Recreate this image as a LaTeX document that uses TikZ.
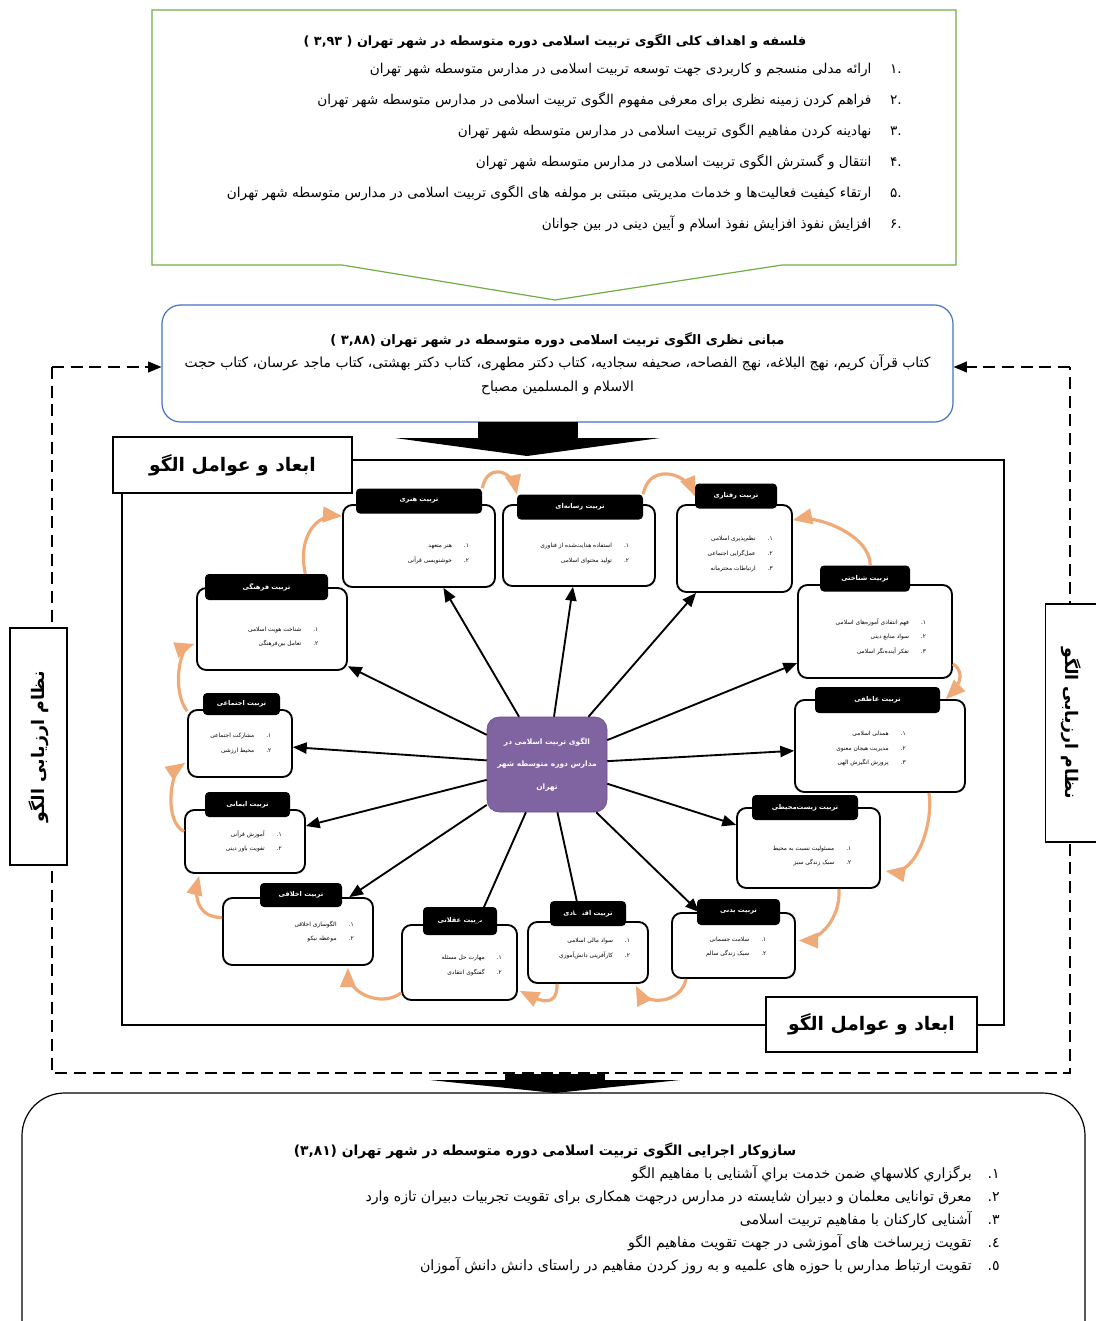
\documentclass[tikz,border=0pt]{standalone}
\usepackage{fontspec}
\usepackage{tikz}
\usetikzlibrary{arrows}
\usetikzlibrary{positioning}
\newfontfamily\persianfont[Script=Arabic]{DejaVu Sans}
\TeXXeTstate=1
\newcommand{\rl}[1]{\beginR #1\endR}
\definecolor{greenline}{RGB}{112,173,71}
\definecolor{blueline}{RGB}{68,114,196}
\definecolor{purplebox}{RGB}{128,100,162}
\definecolor{orangearc}{RGB}{240,170,120}
\tikzset{%
  wh/.style 2 args={minimum width=#1*0.75pt, minimum height=#2*0.75pt},
  myedge/.style={->, line width=1.4pt, >=triangle 45},
  myloop/.style={->, line width=2.4pt, draw=orangearc, >=triangle 45},
  dashframe/.style={line width=1.3pt, dash pattern=on 9pt off 5pt},
  dimbody/.style={rectangle, rounded corners=7pt, draw=black, line width=1.4pt, fill=white},
  dimhead/.style={rectangle, rounded corners=3pt, fill=black, text=white, minimum height=18pt, inner sep=1pt, font=\persianfont\bfseries\fontsize{5}{6}\selectfont},
  dimitems/.style={align=right, inner sep=0pt, font=\persianfont\fontsize{4.4}{11}\selectfont},
  labelbox/.style={rectangle, draw=black, line width=0.9pt, fill=white, font=\persianfont\bfseries\fontsize{14}{16}\selectfont},
  evalbox/.style={rectangle, draw=black, line width=0.9pt, fill=white, font=\persianfont\bfseries\fontsize{13}{15}\selectfont}
}
\begin{document}
\begin{tikzpicture}[x=0.75pt, y=-0.75pt]
\useasboundingbox (0,0) rectangle (1096,1321);

% goals of the model
\draw[greenline, line width=0.9pt] (152,10) -- (956,10) -- (956,265) -- (782,265) -- (555,300) -- (342,265) -- (152,265) -- cycle;
\node[font=\persianfont\bfseries\fontsize{9.6}{11}\selectfont] (goalttl) at (555,41) {\rl{فلسفه و اهداف کلی الگوی تربیت اسلامی دوره متوسطه در شهر تهران ( ۳,۹۳ )}};
\node[anchor=north east, align=right, inner sep=0pt, font=\persianfont\fontsize{10.2}{23.2}\selectfont] (goals) at (902,63) {%
  \rl{.۱\hspace{14pt}ارائه مدلی منسجم و کاربردی جهت توسعه تربیت اسلامی در مدارس متوسطه شهر تهران}\\
  \rl{.۲\hspace{14pt}فراهم کردن زمینه نظری برای معرفی مفهوم الگوی تربیت اسلامی در مدارس متوسطه شهر تهران}\\
  \rl{.۳\hspace{14pt}نهادینه کردن مفاهیم الگوی تربیت اسلامی در مدارس متوسطه شهر تهران}\\
  \rl{.۴\hspace{14pt}انتقال و گسترش الگوی تربیت اسلامی در مدارس متوسطه شهر تهران}\\
  \rl{.۵\hspace{14pt}ارتقاء کیفیت فعالیت‌ها و خدمات مدیریتی مبتنی بر مولفه های الگوی تربیت اسلامی در مدارس متوسطه شهر تهران}\\
  \rl{.۶\hspace{14pt}افزایش نفوذ افزایش نفوذ اسلام و آیین دینی در بین جوانان}};

% theoretical foundations
\node[rectangle, draw=blueline, line width=0.9pt, rounded corners=14pt, wh={791}{117}, align=center, font=\persianfont\fontsize{10.4}{17.8}\selectfont] (mabani) at (557.5,363.5) {%
  \rl{\bfseries\fontsize{9.8}{17.8}\selectfont مبانی نظری الگوی تربیت اسلامی دوره متوسطه در شهر تهران (۳,۸۸ )}\\
  \rl{کتاب قرآن کریم، نهج البلاغه، نهج الفصاحه، صحیفه سجادیه، کتاب دکتر مطهری، کتاب دکتر بهشتی، کتاب ماجد عرسان، کتاب حجت}\\
  \rl{الاسلام و المسلمین مصباح}};

% evaluation loop
\coordinate (dtl) at (52,367);
\coordinate (dbl) at (52,1073);
\coordinate (dbr) at (1070,1073);
\coordinate (dtr) at (1070,367);
\draw[dashframe] (dtl) -- (dbl) -- (dbr) -- (dtr);
\draw[dashframe, ->, >=triangle 45] (dtl) -- (dtl -| mabani.west);
\draw[dashframe, ->, >=triangle 45] (dtr) -- (dtr -| mabani.east);
\node[evalbox, wh={237}{57}, rotate=90] (evalL) at (38.5,746.5) {\rl{نظام ارزیابی الگو}};
\node[evalbox, wh={238}{51}, rotate=-90] (evalR) at (1071,723) {\rl{نظام ارزیابی الگو}};

% block arrows
\fill (478,422) rectangle (578,439);
\fill (395,438) -- (660,438) -- (527,456) -- cycle;
\fill (505,1074) rectangle (605,1081);
\fill (430,1080) -- (680,1080) -- (555,1093) -- cycle;

% dimensions frame
\draw[line width=0.9pt] (122,460) rectangle (1004,1025);
\node[labelbox, wh={239}{56}] (dimL) at (232.5,465) {\rl{ابعاد و عوامل الگو}};
\node[labelbox, wh={211}{55}] (dimR) at (871.5,1024.5) {\rl{ابعاد و عوامل الگو}};

% center of the model
\node[rectangle, rounded corners=9pt, fill=purplebox, draw=purplebox!80!black, wh={120}{95}, align=center, text=white, font=\persianfont\bfseries\fontsize{5.6}{17}\selectfont] (olgu) at (547,764.5) {%
  \rl{الگوی تربیت اسلامی در}\\ \rl{مدارس دوره متوسطه شهر}\\ \rl{تهران}};

% dimension boxes
\node[dimbody, wh={152}{82}] (honari) at (419,546) {};
\node[dimhead, wh={126}{25}] (honari-h) at (419,501) {\rl{تربیت هنری}};
\node[dimitems, left=20pt, yshift=-6pt] (honari-t) at (honari.east) {\rl{۱.\hspace{9pt}هنر متعهد}\\ \rl{۲.\hspace{9pt}خوشنویسی قرآنی}};

\node[dimbody, wh={152}{81}] (resanei) at (579,545.5) {};
\node[dimhead, wh={126}{25}] (resanei-h) at (580,507) {\rl{تربیت رسانه‌ای}};
\node[dimitems, left=20pt, yshift=-6pt] (resanei-t) at (resanei.east) {\rl{۱.\hspace{9pt}استفاده هدایت‌شده از فناوری}\\ \rl{۲.\hspace{9pt}تولید محتوای اسلامی}};

\node[dimbody, wh={115}{87}] (raftari) at (734.5,548.5) {};
\node[dimhead, wh={82}{25}] (raftari-h) at (736,496) {\rl{تربیت رفتاری}};
\node[dimitems, left=15pt, yshift=-4pt] (raftari-t) at (raftari.east) {\rl{۱.\hspace{9pt}نظم‌پذیری اسلامی}\\ \rl{۲.\hspace{9pt}عمل‌گرایی اجتماعی}\\ \rl{۳.\hspace{9pt}ارتباطات محترمانه}};

\node[dimbody, wh={154}{93}] (shenakhti) at (875,631.5) {};
\node[dimhead, wh={90}{26}] (shenakhti-h) at (865,578.5) {\rl{تربیت شناختی}};
\node[dimitems, left=20pt, yshift=-4pt] (shenakhti-t) at (shenakhti.east) {\rl{۱.\hspace{9pt}فهم انتقادی آموزه‌های اسلامی}\\ \rl{۲.\hspace{9pt}سواد منابع دینی}\\ \rl{۳.\hspace{9pt}تفکر آینده‌نگر اسلامی}};

\node[dimbody, wh={170}{92}] (atefi) at (880,746) {};
\node[dimhead, wh={125}{26}] (atefi-h) at (877.5,700) {\rl{تربیت عاطفی}};
\node[dimitems, left=45pt, yshift=-2pt] (atefi-t) at (atefi.east) {\rl{۱.\hspace{9pt}همدلی اسلامی}\\ \rl{۲.\hspace{9pt}مدیریت هیجان معنوی}\\ \rl{۳.\hspace{9pt}پرورش انگیزش الهی}};

\node[dimbody, wh={143}{80}] (zist) at (808.5,848) {};
\node[dimhead, wh={106}{25}] (zist-h) at (805,807.5) {\rl{تربیت زیست‌محیطی}};
\node[dimitems, left=22pt, yshift=-6pt] (zist-t) at (zist.east) {\rl{۱.\hspace{9pt}مسئولیت نسبت به محیط}\\ \rl{۲.\hspace{9pt}سبک زندگی سبز}};

\node[dimbody, wh={123}{65}] (badani) at (733.5,945.5) {};
\node[dimhead, wh={83}{26}] (badani-h) at (738.5,912) {\rl{تربیت بدنی}};
\node[dimitems, left=22pt, yshift=-1pt] (badani-t) at (badani.east) {\rl{۱.\hspace{9pt}سلامت جسمانی}\\ \rl{۲.\hspace{9pt}سبک زندگی سالم}};

\node[dimbody, wh={120}{61}] (eghtesadi) at (588,952.5) {};
\node[dimhead, wh={76}{25}] (eghtesadi-h) at (588,913.5) {\rl{تربیت اقتصادی}};
\node[dimitems, left=14pt, yshift=3pt] (eghtesadi-t) at (eghtesadi.east) {\rl{۱.\hspace{9pt}سواد مالی اسلامی}\\ \rl{۲.\hspace{9pt}کارآفرینی دانش‌آموزی}};

\node[dimbody, wh={115}{75}] (aghlani) at (459.5,962.5) {};
\node[dimhead, wh={74}{28}] (aghlani-h) at (460,921) {\rl{تربیت عقلانی}};
\node[dimitems, left=12pt, yshift=-2pt] (aghlani-t) at (aghlani.east) {\rl{۱.\hspace{9pt}مهارت حل مسئله}\\ \rl{۲.\hspace{9pt}گفتگوی انتقادی}};

\node[dimbody, wh={150}{67}] (akhlaghi) at (298,931.5) {};
\node[dimhead, wh={82}{24}] (akhlaghi-h) at (301,895) {\rl{تربیت اخلاقی}};
\node[dimitems, left=15pt, yshift=0pt] (akhlaghi-t) at (akhlaghi.east) {\rl{۱.\hspace{9pt}الگوسازی اخلاقی}\\ \rl{۲.\hspace{9pt}موعظه نیکو}};

\node[dimbody, wh={120}{63}] (imani) at (245,841.5) {};
\node[dimhead, wh={85}{25}] (imani-h) at (247.5,804.5) {\rl{تربیت ایمانی}};
\node[dimitems, left=18pt, yshift=0pt] (imani-t) at (imani.east) {\rl{۱.\hspace{9pt}آموزش قرآنی}\\ \rl{۲.\hspace{9pt}تقویت باور دینی}};

\node[dimbody, wh={104}{67}] (ejtemaei) at (240,743.5) {};
\node[dimhead, wh={77}{22}] (ejtemaei-h) at (241.5,704) {\rl{تربیت اجتماعی}};
\node[dimitems, left=16pt, yshift=0pt] (ejtemaei-t) at (ejtemaei.east) {\rl{۱.\hspace{9pt}مشارکت اجتماعی}\\ \rl{۲.\hspace{9pt}محیط ارزشی}};

\node[dimbody, wh={150}{82}] (farhangi) at (272,629) {};
\node[dimhead, wh={123}{26}] (farhangi-h) at (266.5,587) {\rl{تربیت فرهنگی}};
\node[dimitems, left=22pt, yshift=-6pt] (farhangi-t) at (farhangi.east) {\rl{۱.\hspace{9pt}شناخت هویت اسلامی}\\ \rl{۲.\hspace{9pt}تعامل بین‌فرهنگی}};

% arrows from the center
\draw[myedge] (olgu) -- (honari);
\draw[myedge] (olgu) -- (resanei);
\draw[myedge] (olgu) -- (raftari);
\draw[myedge] (olgu) -- (shenakhti);
\draw[myedge] (olgu) -- (atefi);
\draw[myedge] (olgu) -- (zist);
\draw[myedge] (olgu) -- (badani);
\draw[myedge] (olgu) -- (eghtesadi);
\draw[myedge] (olgu) -- (aghlani);
\draw[myedge] (olgu) -- (akhlaghi);
\draw[myedge] (olgu) -- (imani);
\draw[myedge] (olgu) -- (ejtemaei);
\draw[myedge] (olgu) -- (farhangi);

% orange loop between the dimensions
\draw[myloop] ([shift={(-23,0)}]farhangi-h.north east) .. controls +(-8,-38) and +(-25,-2) .. ([shift={(0,12)}]honari.north west);
\draw[myloop] (honari-h.north east) .. controls +(5,-25) and +(-5,-25) .. (resanei-h.north west);
\draw[myloop] (resanei-h.north east) .. controls +(5,-30) and +(-10,-25) .. (raftari-h.west);
\draw[myloop] ([shift={(-40,0)}]shenakhti-h.north east) .. controls +(0,-30) and +(25,-5) .. ([shift={(0,16)}]raftari.north east);
\draw[myloop] ([shift={(0,-15)}]shenakhti.south east) .. controls +(15,10) and +(10,-10) .. ([shift={(-20,0)}]atefi.north east);
\draw[myloop] ([shift={(-37,0)}]atefi.south east) .. controls +(5,30) and +(30,5) .. ([shift={(5,-18)}]zist.south east);
\draw[myloop] ([shift={(-42,0)}]zist.south east) .. controls +(2,30) and +(20,0) .. ([shift={(3,-5)}]badani.east);
\draw[myloop] ([shift={(15,0)}]badani.south west) .. controls +(-5,25) and +(10,20) .. ([shift={(-13,2)}]eghtesadi.south east);
\draw[myloop] ([shift={(30,0)}]eghtesadi.south west) .. controls +(0,25) and +(20,10) .. ([shift={(2,-10)}]aghlani.south east);
\draw[myloop] ([shift={(0,-8)}]aghlani.south west) .. controls +(-20,15) and +(0,25) .. ([shift={(-26,2)}]akhlaghi.south east);
\draw[myloop] ([shift={(0,-14)}]akhlaghi.west) .. controls +(-25,0) and +(-5,20) .. ([shift={(15,2)}]imani.south west);
\draw[myloop] ([shift={(0,-10)}]imani.west) .. controls +(-20,-10) and +(-15,10) .. ([shift={(-2,-15)}]ejtemaei.south west);
\draw[myloop] ([shift={(0,2)}]ejtemaei.north west) .. controls +(-15,-20) and +(-15,5) .. ([shift={(-2,15)}]farhangi.west);

% executive mechanism
\draw[line width=0.9pt, rounded corners=32pt] (22,1340) -- (22,1093) -- (1085,1093) -- (1085,1340);
\node[font=\persianfont\bfseries\fontsize{10.4}{12}\selectfont] (mechttl) at (545,1151) {\rl{سازوکار اجرایی الگوی تربیت اسلامی دوره متوسطه در شهر تهران (۳,۸۱)}};
\node[anchor=north east, align=right, inner sep=0pt, font=\persianfont\fontsize{10.6}{17.2}\selectfont] (mech) at (1000,1165) {%
  \rl{١.\hspace{12pt}برگزاري كلاسهاي ضمن خدمت براي آشنایی با مفاهیم الگو}\\
  \rl{٢.\hspace{12pt}معرق توانایی معلمان و دبیران شایسته در مدارس درجهت همکاری برای تقویت تجربیات دبیران تازه وارد}\\
  \rl{٣.\hspace{12pt}آشنایی کارکنان با مفاهیم تربیت اسلامی}\\
  \rl{٤.\hspace{12pt}تقویت زیرساخت های آموزشی در جهت تقویت مفاهیم الگو}\\
  \rl{٥.\hspace{12pt}تقویت ارتباط مدارس با حوزه های علمیه و به روز کردن مفاهیم در راستای دانش دانش آموزان}};
\end{tikzpicture}
\end{document}
